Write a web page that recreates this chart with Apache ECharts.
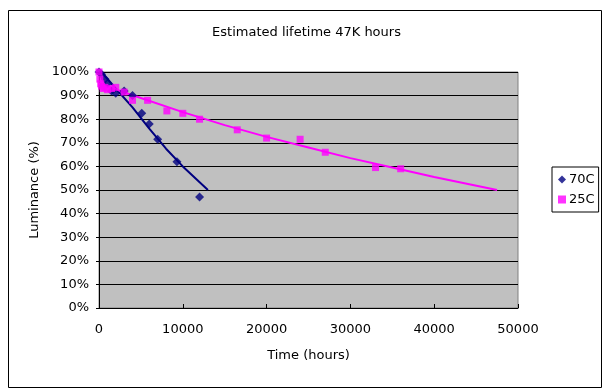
<!DOCTYPE html>
<html><head><meta charset="utf-8">
<script src="https://cdn.jsdelivr.net/npm/echarts@6/dist/echarts.min.js"></script>
<style>html,body{margin:0;padding:0;background:#fff}#c{width:613px;height:391px}</style>
</head><body><div id="c"></div>
<script>
// 70C measured points [hours, luminance %]
const hot70Hours = [0, 300, 700, 1000, 1500, 2000, 3000, 4000, 5100, 6000, 7000, 9300, 12000];
const hot70Lum   = [100, 99, 97, 95, 92, 91, 92, 90, 82.5, 78, 71.5, 62, 47];
// 25C measured points
const room25Hours = [0, 100, 200, 300, 500, 700, 1000, 1500, 2000, 3000, 4000, 5800, 8100, 10000, 12000, 16500, 20000, 24000, 27000, 33000, 36000];
const room25Lum   = [100, 97, 95, 94, 93, 93.5, 92.5, 93, 93.5, 91.5, 88, 88, 83.5, 82.5, 80, 75.5, 72, 71.5, 66, 59.5, 59];
// trend lines
const trend70Hours = [300, 2000, 4000, 6000, 8000, 10000, 13000];
const trend70Lum   = [100, 93, 85, 76, 67.5, 60, 50];
const trend25Hours = [0, 5000, 10000, 15000, 20000, 25000, 30000, 35000, 40000, 47500];
const trend25Lum   = [95, 89, 83, 77.5, 72.5, 68, 63.5, 59.5, 55.5, 50];
const xTicks = [0, 10000, 20000, 30000, 40000, 50000];
const seriesNames = ['70C', '25C'];

const zip = (a, b) => a.map((v, i) => [v, b[i]]);
const F = 'DejaVu Sans';
const chart = echarts.init(document.getElementById('c'), null, {renderer: 'canvas'});
chart.setOption({
  backgroundColor: '#fff',
  animation: false,
  title: {text: 'Estimated lifetime 47K hours', left: 'center', top: 21,
    textStyle: {fontFamily: F, fontSize: 13, fontWeight: 'normal', color: '#000'}},
  graphic: [{type: 'rect', shape: {x: 8.5, y: 10.5, width: 593, height: 377},
    style: {fill: 'none', stroke: '#000', lineWidth: 1}, silent: true, z: -1}],
  grid: {left: 99, right: 95, top: 72, bottom: 83, show: true, backgroundColor: '#C0C0C0',
    borderColor: '#808080', borderWidth: 1},
  legend: {data: seriesNames, orient: 'vertical', left: 552, top: 167, width: 45,
    borderColor: '#000', borderWidth: 1, padding: [6, 4, 6, 6], itemGap: 7,
    itemWidth: 8, itemHeight: 8, textStyle: {fontFamily: F, fontSize: 13, color: '#000', padding: [0, 0, 0, -2]}},
  xAxis: {type: 'value', min: 0, max: 50000, interval: 10000,
    name: 'Time (hours)', nameLocation: 'middle', nameGap: 41,
    nameTextStyle: {fontFamily: F, fontSize: 13, color: '#000'},
    axisLine: {lineStyle: {color: '#000'}},
    axisTick: {inside: true, length: 4, lineStyle: {color: '#000'}},
    axisLabel: {fontFamily: F, fontSize: 13, color: '#000', margin: 15,
      formatter: v => xTicks.indexOf(v) >= 0 ? String(v) : ''},
    splitLine: {show: false}},
  yAxis: {type: 'value', min: 0, max: 100, interval: 10,
    name: 'Luminance (%)', nameLocation: 'middle', nameGap: 44, nameRotate: 90,
    nameTextStyle: {fontFamily: F, fontSize: 13, color: '#000'},
    axisLine: {show: true, lineStyle: {color: '#000'}},
    axisTick: {show: true, length: 3, lineStyle: {color: '#000'}},
    axisLabel: {fontFamily: F, fontSize: 13, color: '#000', margin: 10, formatter: '{value}%'},
    splitLine: {show: true, lineStyle: {color: '#000', width: 1}}},
  series: [
    {name: '70C', type: 'scatter', symbol: 'diamond', symbolSize: 9, z: 3,
     itemStyle: {color: '#000080'}, data: zip(hot70Hours, hot70Lum)},
    {name: '25C', type: 'scatter', symbol: 'rect', symbolSize: 7, z: 3,
     itemStyle: {color: '#FF00FF'}, data: zip(room25Hours, room25Lum)},
    {name: '70C trend', type: 'line', showSymbol: false, symbol: 'none', z: 2,
     lineStyle: {color: '#000080', width: 2}, data: zip(trend70Hours, trend70Lum)},
    {name: '25C trend', type: 'line', showSymbol: false, symbol: 'none', z: 2,
     lineStyle: {color: '#FF00FF', width: 2}, data: zip(trend25Hours, trend25Lum)}
  ]
});
</script></body></html>
